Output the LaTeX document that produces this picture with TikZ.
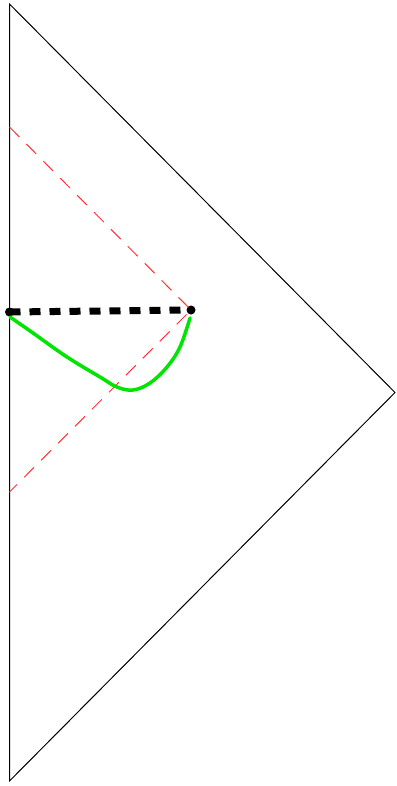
\documentclass[tikz,border=0pt]{standalone}
\usetikzlibrary{calc}
\tikzset{
  boundary/.style={line width=1pt,black},
  lightcone/.style={line width=1pt,red!80,dash pattern=on 14pt off 10pt},
  slice/.style={line width=7pt,black,dash pattern=on 11pt off 9pt},
  geodesic/.style={line width=3.5pt,green!90!black!100,line join=round,line cap=round},
  endpoint/.style={circle,fill=black,inner sep=0pt,minimum size=9pt},
}

\begin{document}
\begin{tikzpicture}[x=1pt,y=-1pt]
\useasboundingbox (0,0) rectangle (396,786);
\coordinate (Top) at (9.5,4);
\coordinate (Bot) at (9.5,781);
\coordinate (Inf) at (395,392.5);
\coordinate (ConeTop) at (9.5,127);
\coordinate (ConeBot) at (9.5,492);
% conformal boundary
\draw[boundary] (Bot) -- (Top) -- (Inf) -- cycle;
% light cone of the boundary point
\node[endpoint] (P) at (191,310) {};
\node[endpoint] (O) at (9.5,312) {};
\draw[lightcone] (ConeTop) -- (P.center) -- (ConeBot);
\draw[slice] (O.center) -- (P.center);
\draw[geodesic] plot[smooth,tension=0.6] coordinates {(10,317) (33,333) (67,357) (100,377) (117,387) (133,390) (150,383) (167,367) (180,347) (190,318)};
\end{tikzpicture}
\end{document}
